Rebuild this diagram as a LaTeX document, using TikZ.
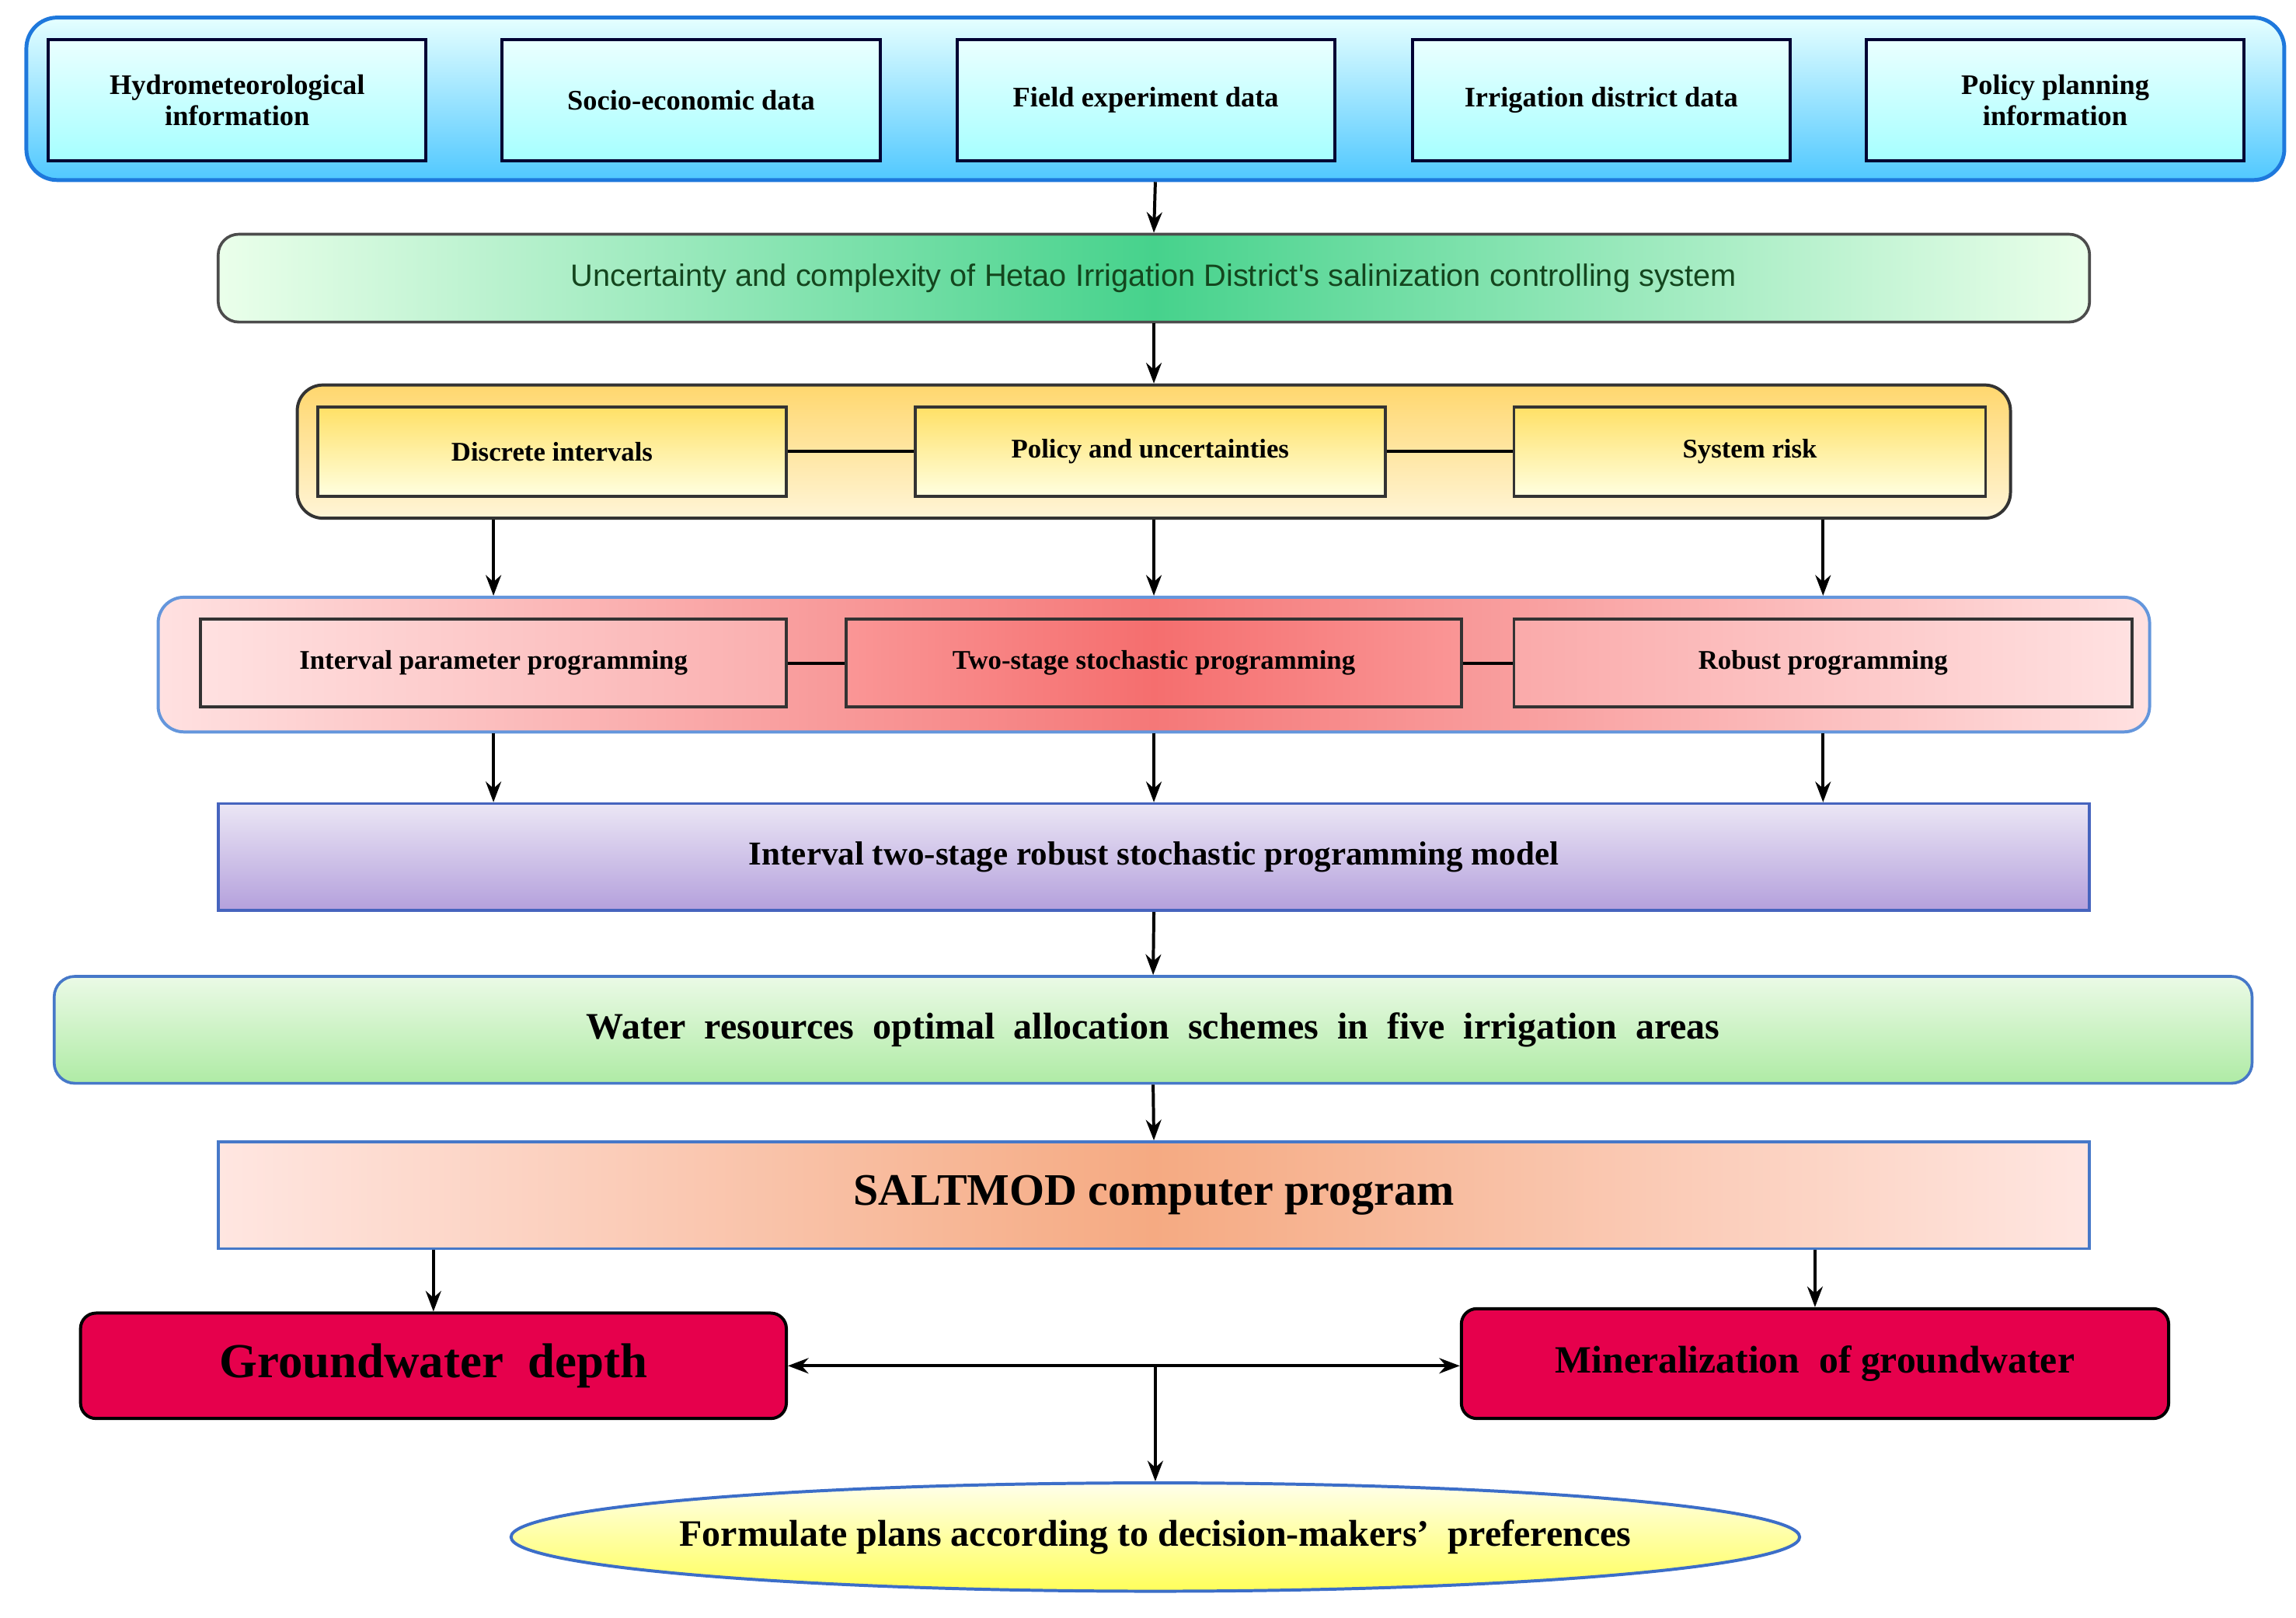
\documentclass[tikz,border=0pt]{standalone}
\usepackage{fontspec}
\setmainfont{Liberation Serif}
\newfontfamily\sansf{Liberation Sans}
\usetikzlibrary{arrows.meta,shapes.geometric}
\begin{document}
\begin{tikzpicture}[x=0.02cm,y=-0.02cm,
 sz/.style 2 args={minimum width=#1*0.02cm, minimum height=#2*0.02cm, inner sep=0pt, align=center},
 arr/.style={-{Stealth[length=8pt,width=6pt]}, line width=1.2pt},
 ln/.style={line width=1.2pt},
 topbox/.style={draw=black!80!blue, line width=1.2pt, top color=cyan!8, bottom color=cyan!35, font=\bfseries\fontsize{11}{12}\selectfont},
 obox/.style={draw=black!80, line width=1.1pt, top color=orange!40!yellow!60, bottom color=yellow!12, font=\bfseries\fontsize{10.5}{12}\selectfont},
 rbox/.style={draw=black!80, line width=1.1pt, font=\bfseries\fontsize{10.5}{12}\selectfont},
 crim/.style={draw=black, line width=1.2pt, rounded corners=6pt, fill={rgb,255:red,230;green,0;blue,76}, font=\bfseries}
]
\useasboundingbox (0,0) rectangle (1568,1105);
% top band
\node[sz={1542}{111}, rounded corners=12pt, draw={rgb,255:red,30;green,120;blue,220}, line width=1.5pt, top color=cyan!10, bottom color={rgb,255:red,80;green,200;blue,255}] (band) at (789,67.5) {};
\node[topbox, sz={258}{83}] (t1) at (162,68.5) {Hydrometeorological\\information};
\node[topbox, sz={258}{83}] (t2) at (472,68.5) {Socio-economic data};
\node[topbox, sz={258}{83}] (t3) at (782.5,68.5) {Field experiment data};
\node[topbox, sz={258}{83}] (t4) at (1093.5,68.5) {Irrigation district data};
\node[topbox, sz={258}{83}] (t5) at (1403.5,68.5) {Policy planning\\information};
% uncertainty
\node[sz={1278}{60}, rounded corners=8pt, draw=black!70, line width=1.1pt, left color=green!8, right color=green!8, middle color={rgb,255:red,70;green,210;blue,140}, font=\sansf\fontsize{12}{14}\selectfont, text={rgb,255:red,20;green,70;blue,30}] (unc) at (788,190) {Uncertainty and complexity of Hetao Irrigation District's salinization controlling system};
% orange band
\node[sz={1170}{91}, rounded corners=10pt, draw=black!80, line width=1.2pt, top color={rgb,255:red,255;green,215;blue,110}, bottom color={rgb,255:red,255;green,245;blue,215}] (oband) at (788,308.5) {};
\node[obox, sz={320}{61}] (o1) at (377,308.5) {Discrete intervals};
\node[obox, sz={321}{61}] (o2) at (785.5,308.5) {Policy and uncertainties};
\node[obox, sz={322}{61}] (o3) at (1195,308.5) {System risk};
\draw[ln] (o1.east) -- (o2.west) (o2.east) -- (o3.west);
% red band
\node[sz={1360}{92}, rounded corners=10pt, draw={rgb,255:red,100;green,150;blue,220}, line width=1.2pt, left color={rgb,255:red,255;green,225;blue,225}, right color={rgb,255:red,255;green,225;blue,225}, middle color={rgb,255:red,245;green,120;blue,120}] (rband) at (788,454) {};
\node[rbox, sz={400}{60}, left color={rgb,255:red,255;green,225;blue,225}, right color={rgb,255:red,250;green,175;blue,175}] (r1) at (337,453) {Interval parameter programming};
\node[rbox, sz={420}{60}, left color={rgb,255:red,250;green,150;blue,150}, right color={rgb,255:red,250;green,150;blue,150}, middle color={rgb,255:red,245;green,110;blue,110}] (r2) at (788,453) {Two-stage stochastic programming};
\node[rbox, sz={422}{60}, left color={rgb,255:red,250;green,170;blue,170}, right color={rgb,255:red,255;green,225;blue,225}] (r3) at (1245,453) {Robust programming};
\draw[ln] (r1.east) -- (r2.west) (r2.east) -- (r3.west);
% purple
\node[sz={1278}{73}, draw={rgb,255:red,70;green,100;blue,190}, line width=1.1pt, top color={rgb,255:red,235;green,230;blue,245}, bottom color={rgb,255:red,180;green,160;blue,220}, font=\bfseries\fontsize{13}{15}\selectfont] (pur) at (788,585.5) {Interval two-stage robust stochastic programming model};
% green
\node[sz={1501}{73}, rounded corners=8pt, draw={rgb,255:red,70;green,120;blue,200}, line width=1.1pt, top color={rgb,255:red,235;green,250;blue,230}, bottom color={rgb,255:red,175;green,235;blue,165}, font=\bfseries\fontsize{14.5}{16}\selectfont] (grn) at (787.5,703.5) {Water\ \ resources\ \ optimal\ \ allocation\ \ schemes\ \ in\ \ five\ \ irrigation\ \ areas};
% saltmod
\node[sz={1278}{73}, draw={rgb,255:red,70;green,120;blue,200}, line width=1.1pt, left color={rgb,255:red,255;green,230;blue,225}, right color={rgb,255:red,255;green,230;blue,225}, middle color={rgb,255:red,245;green,170;blue,130}, font=\bfseries\fontsize{17.5}{20}\selectfont] (salt) at (788,816.5) {SALTMOD\ computer\ program};
% crimson
\node[crim, sz={482}{72}, font=\bfseries\fontsize{19}{22}\selectfont] (gw) at (296,933) {Groundwater\ \ depth};
\node[crim, sz={483}{75}, font=\bfseries\fontsize{15}{18}\selectfont] (mn) at (1239.5,931.5) {Mineralization\ \ of groundwater};
% ellipse
\node[ellipse, sz={880}{74}, draw={rgb,255:red,60;green,110;blue,200}, line width=1.2pt, top color={rgb,255:red,255;green,255;blue,235}, bottom color={rgb,255:red,255;green,255;blue,90}] (ell) at (789,1050) {};
\node[font=\bfseries\fontsize{14.5}{16}\selectfont] (eltxt) at (ell.center) {Formulate\ plans\ according\ to\ decision-makers'\ \ preferences};
% arrows
\draw[arr] (band.south) -- (unc.north);
\draw[arr] (unc.south) -- (oband.north);
\foreach \r in {r1,r2,r3}{
 \draw[arr] (oband.south -| \r.north) -- (rband.north -| \r.north);
 \draw[arr] (rband.south -| \r.north) -- (pur.north -| \r.north);
}
\draw[arr] (pur.south) -- (grn.north);
\draw[arr] (grn.south) -- (salt.north);
\draw[arr] (salt.south -| gw.north) -- (gw.north);
\draw[arr] (salt.south -| mn.north) -- (mn.north);
\draw[arr, {Stealth[length=8pt,width=6pt]}-{Stealth[length=8pt,width=6pt]}] (gw.east) -- (gw.east -| mn.west);
\coordinate (mid) at (gw.east -| ell.north);
\draw[arr] (mid) -- (ell.north);
\end{tikzpicture}
\end{document}
